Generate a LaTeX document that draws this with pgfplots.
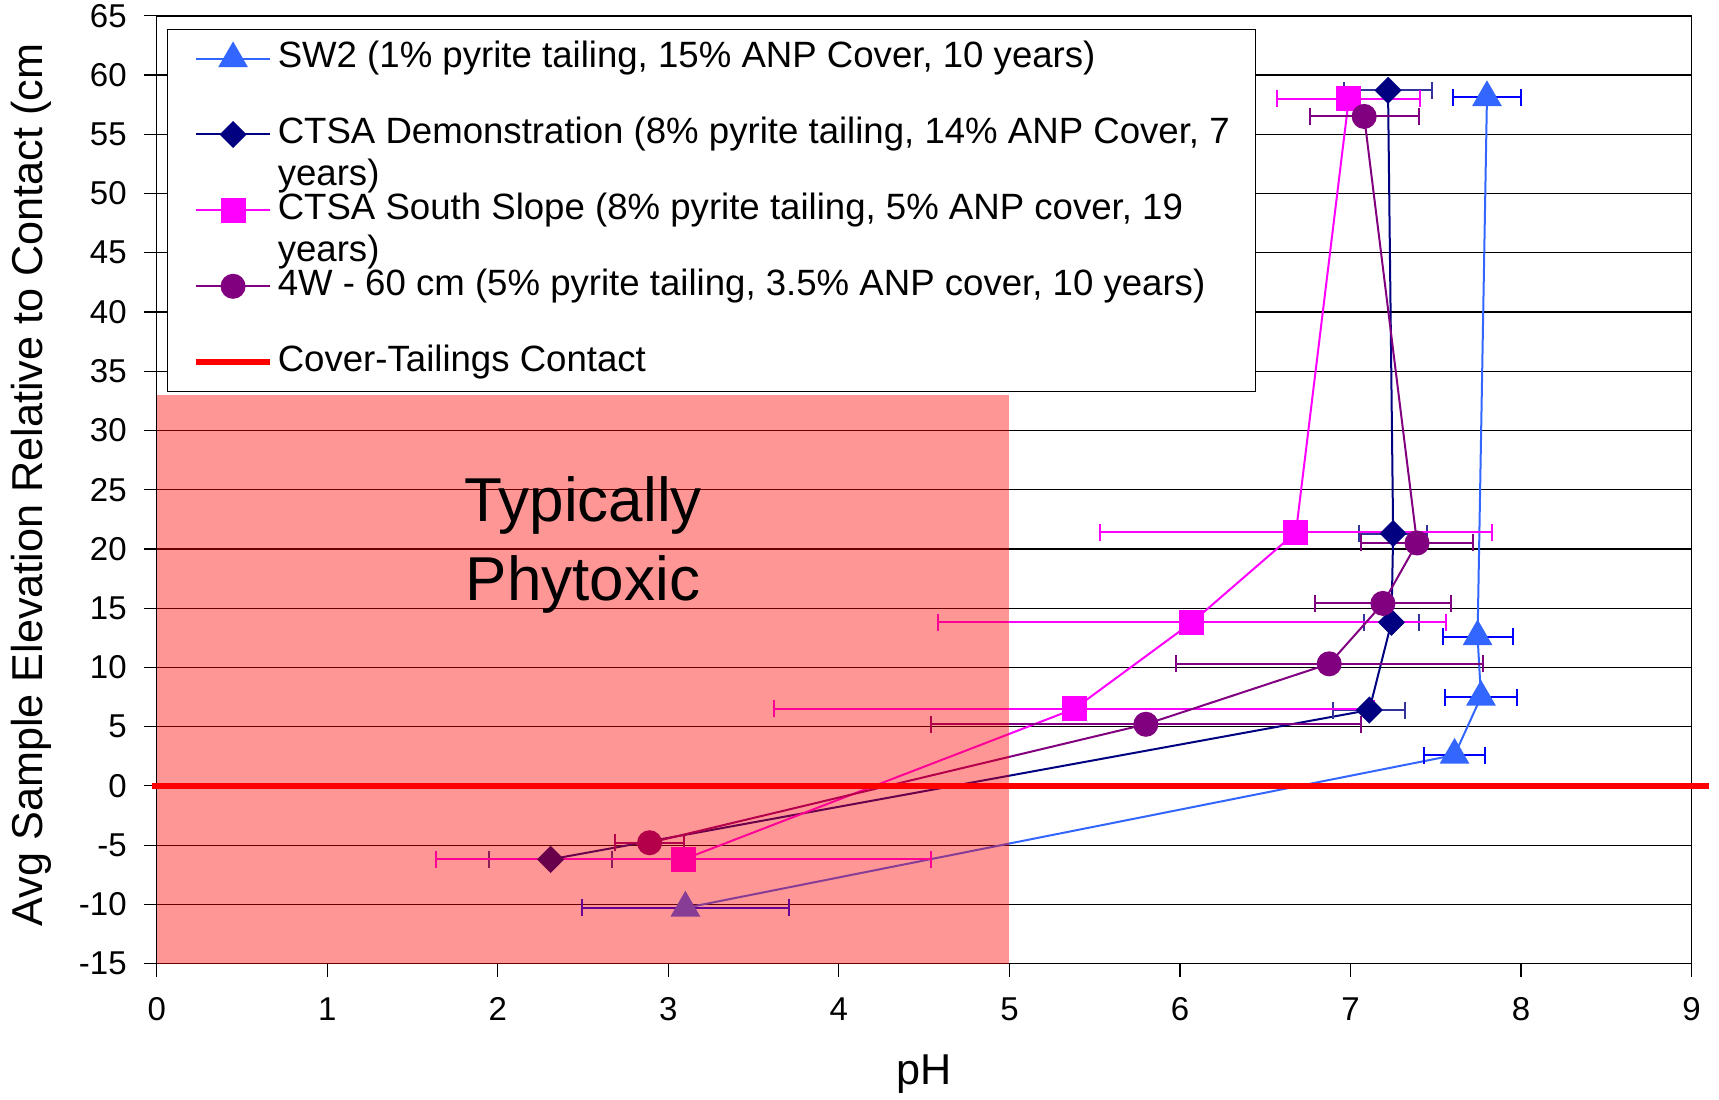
\documentclass[border=0pt]{standalone}
\usepackage{fontspec}
\setmainfont{Liberation Sans}
\usepackage{pgfplots}
\pgfplotsset{compat=1.18}
\usepackage{pgfplotstable}

\definecolor{swblue}{RGB}{51,102,255}
\definecolor{errblue}{RGB}{0,0,255}
\definecolor{demonavy}{RGB}{0,0,128}
\definecolor{demoerr}{RGB}{51,51,153}
\definecolor{ssmag}{RGB}{255,0,255}
\definecolor{fwpurple}{RGB}{128,0,128}

\pgfplotstableread{
x y ex
7.80 58.1 0.20
7.745 12.6 0.205
7.765 7.5 0.21
7.61 2.6 0.18
3.10 -10.3 0.605
}\swtab
\pgfplotstableread{
x y ex
7.22 58.7 0.26
7.25 21.3 0.20
7.24 13.8 0.16
7.11 6.4 0.21
2.31 -6.2 0.36
}\demotab
\pgfplotstableread{
x y ex
6.99 58.0 0.42
6.68 21.4 1.15
6.07 13.8 1.49
5.38 6.5 1.76
3.09 -6.2 1.45
}\sstab
\pgfplotstableread{
x y ex
7.08 56.5 0.32
7.39 20.5 0.33
7.19 15.4 0.40
6.875 10.3 0.90
5.80 5.2 1.26
2.89 -4.8 0.20
}\fwtab

\begin{document}
\begin{tikzpicture}
\begin{axis}[
  set layers,
  scale only axis, width=767.45pt, height=473.95pt,
  xmin=0, xmax=9, ymin=-15, ymax=65,
  xtick={0,1,...,9}, ytick={-15,-10,...,65},
  xtick pos=bottom, ytick pos=left,
  ymajorgrids, major grid style={black, line width=0.6pt},
  tick align=outside, major tick length=6.5pt,
  tick style={black, line width=0.6pt},
  axis line style={black, line width=0.8pt},
  tick label style={font=\fontsize{16.5}{19}\selectfont},
  xticklabel style={yshift=-7pt},
  yticklabel style={xshift=-5pt},
  /pgf/number format/assume math mode=true,
  xlabel={pH},
  ylabel={Avg Sample Elevation Relative to Contact (cm},
  label style={font=\fontsize{21.6}{25}\selectfont},
  xlabel style={at={(axis description cs:0.5,-0.117)}, anchor=center},
  ylabel style={at={(axis description cs:-0.082,0.505)}, anchor=center},
  clip=false,
  legend cell align=left,
  legend image code/.code={\draw[mark repeat=2,mark phase=2,#1] plot coordinates {(0pt,0pt) (18.35pt,0pt) (36.7pt,0pt)};},
  legend style={at={(axis description cs:0.0067,0.986)}, anchor=north west,
    draw=black, line width=0.6pt, fill=white,
    font=\fontsize{18.3}{21}\selectfont,
    inner xsep=13pt, inner ysep=6.5pt,
    row sep=21.95pt, column sep=2.6pt,
    nodes={inner xsep=0pt, inner ysep=0pt, text height=12.5pt, text depth=3.5pt}},
]
\addplot[color=swblue, line width=1pt, mark=triangle*, mark size=7.6pt,
  mark options={solid, fill=swblue, draw=swblue},
  error bars/.cd, x dir=both, x explicit,
  error bar style={errblue, line width=1pt},
  error mark options={errblue, mark size=4.25pt, line width=1pt, rotate=90}]
  table[x=x, y=y, x error=ex] {\swtab};
\addlegendentry{SW2 (1\% pyrite tailing, 15\% ANP Cover, 10 years)}

\addplot[color=demonavy, line width=1pt, mark=square*, mark size=4.3pt,
  mark options={solid, fill=demonavy, draw=demonavy, rotate=45},
  error bars/.cd, x dir=both, x explicit,
  error bar style={demoerr, line width=1pt},
  error mark options={demoerr, mark size=4.25pt, line width=1pt, rotate=90}]
  table[x=x, y=y, x error=ex] {\demotab};
\addlegendentry{\smash{\begin{tabular}[t]{@{}l@{}}CTSA Demonstration (8\% pyrite tailing, 14\% ANP Cover, 7\\years)\end{tabular}}}

\addplot[color=ssmag, line width=1pt, mark=square*, mark size=5.75pt,
  mark options={solid, fill=ssmag, draw=ssmag},
  error bars/.cd, x dir=both, x explicit,
  error bar style={ssmag, line width=1pt},
  error mark options={ssmag, mark size=4.25pt, line width=1pt, rotate=90}]
  table[x=x, y=y, x error=ex] {\sstab};
\addlegendentry{\smash{\begin{tabular}[t]{@{}l@{}}CTSA South Slope (8\% pyrite tailing, 5\% ANP cover, 19\\years)\end{tabular}}}

\addplot[color=fwpurple, line width=1pt, mark=*, mark size=5.75pt,
  mark options={solid, fill=fwpurple, draw=fwpurple},
  error bars/.cd, x dir=both, x explicit,
  error bar style={fwpurple, line width=1pt},
  error mark options={fwpurple, mark size=4.25pt, line width=1pt, rotate=90}]
  table[x=x, y=y, x error=ex] {\fwtab};
\addlegendentry{4W - 60 cm (5\% pyrite tailing, 3.5\% ANP cover, 10 years)}

\addplot[color=red, line width=2.8pt] coordinates {(-0.03,0) (9.1,0)};
\addlegendentry{Cover-Tailings Contact}

\pgfplotsextra{%
\begin{pgfonlayer}{axis foreground}
\fill[red, fill opacity=0.41] (axis cs:0,-15) rectangle (axis cs:5,33);
\node[font=\fontsize{31}{39.5}\selectfont, align=center] at (axis cs:2.5,20.3) {Typically\\Phytoxic};
\end{pgfonlayer}}
\end{axis}
\pgfresetboundingbox
\useasboundingbox (-78.35pt,-67.7pt) rectangle (781.15pt,481.8pt);
\end{tikzpicture}
\end{document}
